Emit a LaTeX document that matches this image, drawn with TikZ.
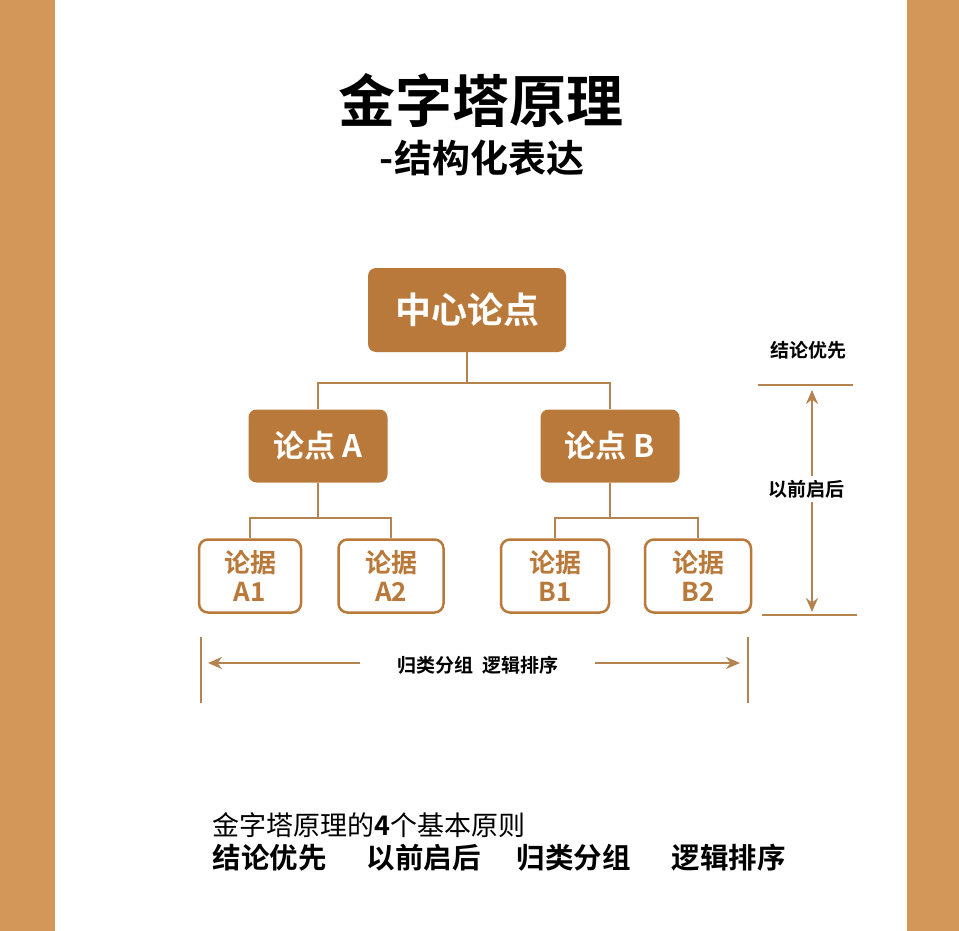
\documentclass[tikz,border=0pt]{standalone}
\usepackage{fontspec}
\newfontfamily\cjk{Noto Sans CJK SC}
\newfontfamily\cjkb{Noto Sans CJK SC Bold}
\usetikzlibrary{arrows.meta}
\definecolor{side}{HTML}{D4975A}
\definecolor{brn}{HTML}{B8793A}
\definecolor{ln}{HTML}{B58350}
\begin{document}
\begin{tikzpicture}[x=1pt,y=-1pt,
 mainbox/.style={fill=brn,rounded corners=8pt,text=white,font=\cjkb\fontsize{36}{40}\selectfont},
 leaf/.style={draw=brn,line width=2.5pt,fill=white,rounded corners=9pt,text=brn,font=\cjkb\fontsize{26}{29}\selectfont,align=center},
 conn/.style={ln,line width=2.5pt},
 arr/.style={ln,line width=2.5pt,-{Stealth[length=14pt,width=12pt]}},
 lbl/.style={font=\cjkb\fontsize{19}{22}\selectfont,text=black}]
\useasboundingbox (0,0) rectangle (959,931);
\fill[side] (0,0) rectangle (55,931);
\fill[side] (907,0) rectangle (959,931);
\node[font=\cjkb\fontsize{57}{62}\selectfont] (t1) at (481,100) {金字塔原理};
\node[font=\cjkb\fontsize{38}{42}\selectfont] (t2) at (482,158) {-结构化表达};
\node[mainbox,minimum width=198pt,minimum height=84pt] (c) at (467,310) {中心论点};
\node[mainbox,minimum width=139pt,minimum height=73pt,font=\cjkb\fontsize{31}{34}\selectfont] (a) at (318,446) {论点 A};
\node[mainbox,minimum width=139pt,minimum height=73pt,font=\cjkb\fontsize{31}{34}\selectfont] (b) at (610,446) {论点 B};
\node[leaf,minimum width=102pt,minimum height=73pt] (a1) at (250,576) {论据\\A1};
\node[leaf,minimum width=105pt,minimum height=73pt] (a2) at (391,576) {论据\\A2};
\node[leaf,minimum width=108pt,minimum height=73pt] (b1) at (555,576) {论据\\B1};
\node[leaf,minimum width=106pt,minimum height=73pt] (b2) at (698,576) {论据\\B2};
\draw[conn] (c.south) -- (467,383) -| (a.north);
\draw[conn] (467,383) -| (b.north);
\draw[conn] (a.south) -- (318,518) -| (a1.north);
\draw[conn] (318,518) -| (a2.north);
\draw[conn] (b.south) -- (610,518) -| (b1.north);
\draw[conn] (610,518) -| (b2.north);
\coordinate (l1) at (201,637); \coordinate (l2) at (201,703);
\coordinate (r1) at (748,637); \coordinate (r2) at (748,703);
\draw[conn] (l1) -- (l2); \draw[conn] (r1) -- (r2);
\node[lbl] (g) at (478,665) {归类分组\hspace{10pt}逻辑排序};
\coordinate (ga) at (360,663); \coordinate (gae) at (208,663);
\coordinate (gb) at (595,663); \coordinate (gbe) at (740,663);
\draw[arr] (ga) -- (gae);
\draw[arr] (gb) -- (gbe);
\node[lbl] (jl) at (808,350) {结论优先};
\coordinate (h1a) at (758,385); \coordinate (h1b) at (853,385);
\coordinate (h2a) at (762,615); \coordinate (h2b) at (857,615);
\draw[conn] (h1a) -- (h1b); \draw[conn] (h2a) -- (h2b);
\node[lbl] (yq) at (806,489) {以前启后};
\coordinate (va) at (812,390); \coordinate (vb) at (812,612);
\draw[arr] (yq.north -| va) -- (va);
\draw[arr] (yq.south -| vb) -- (vb);
\node[anchor=west,font=\cjk\fontsize{27}{30}\selectfont] (p) at (209,825) {金字塔原理的{\cjkb 4}个基本原则};
\node[anchor=west,font=\cjkb\fontsize{28.5}{31}\selectfont] (q1) at (209,858) {结论优先};
\node[anchor=west,font=\cjkb\fontsize{28.5}{31}\selectfont] (q2) at (363,858) {以前启后};
\node[anchor=west,font=\cjkb\fontsize{28.5}{31}\selectfont] (q3) at (513,858) {归类分组};
\node[anchor=west,font=\cjkb\fontsize{28.5}{31}\selectfont] (q4) at (668,858) {逻辑排序};
\end{tikzpicture}
\end{document}
